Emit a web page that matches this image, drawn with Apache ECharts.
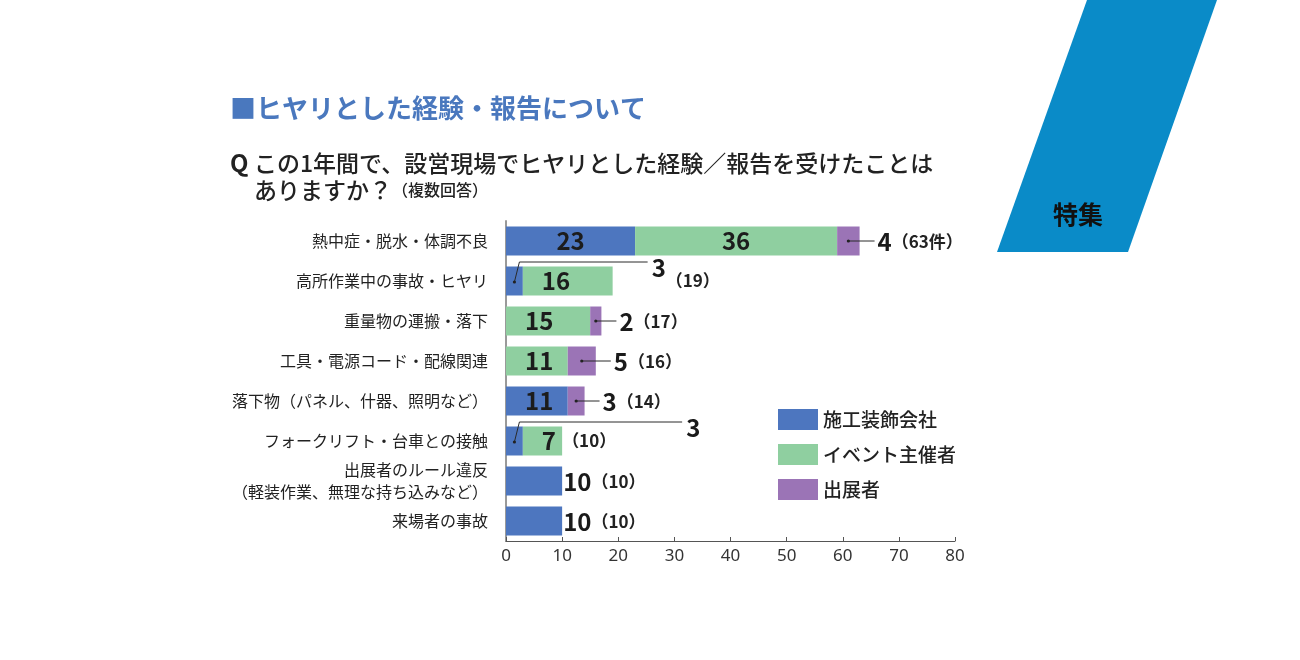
<!DOCTYPE html>
<html>
<head>
<meta charset="utf-8">
<title>ヒヤリとした経験・報告について</title>
<script src="https://cdn.jsdelivr.net/npm/echarts@6/dist/echarts.min.js"></script>
<style>
  html, body { margin: 0; padding: 0; background: #fff; }
  #chart { width: 1300px; height: 660px; }
</style>
</head>
<body>
<div id="chart"></div>
<script>
// データ（上から順）
const categories = [
  '熱中症・脱水・体調不良',
  '高所作業中の事故・ヒヤリ',
  '重量物の運搬・落下',
  '工具・電源コード・配線関連',
  '落下物（パネル、什器、照明など）',
  'フォークリフト・台車との接触',
  '出展者のルール違反\n（軽装作業、無理な持ち込みなど）',
  '来場者の事故'
];
const seriesNames = ['施工装飾会社', 'イベント主催者', '出展者'];
const contractor = [23, 3, 0, 0, 11, 3, 10, 10];
const organizer = [36, 16, 15, 11, 0, 7, 0, 0];
const exhibitor = [4, 0, 2, 5, 3, 0, 0, 0];
const totals = [63, 19, 17, 16, 14, 10, 10, 10];
const axisMin = 0;
const axisMax = 80;
const axisStep = 10;

const FONT = '"Noto Sans CJK JP", "Noto Sans", sans-serif';
const colors = ['#4d76bf', '#8fcfa0', '#9b74b6'];
// 引き出し線の横の長さ（バー端からのpx）
const ELBOW_REACH = { 1: 35, 5: 120 };

const chart = echarts.init(document.getElementById('chart'));

// バー内の数字
const segLabel = (v) => ({
  show: true,
  position: v >= 20 ? 'inside' : 'insideLeft',
  distance: 19,
  fontSize: 24,
  fontWeight: 'bold',
  fontFamily: FONT,
  color: '#1c1c1c'
});

const toItems = (arr, showFn) => arr.map((v, i) => ({
  value: v,
  label: showFn(v, i) ? segLabel(v) : { show: false }
}));

const RICH = {
  n: { fontSize: 24, fontWeight: 'bold', fill: '#1a1a1a', fontFamily: FONT },
  t: { fontSize: 17, fontWeight: 'bold', fill: '#222', fontFamily: FONT }
};

// 外側の数字・引き出し線・合計
const renderCallout = (params, api) => {
  const total = api.value(0);
  const i = api.value(1);
  const end = api.coord([total, i]);
  const yc = end[1];
  const totalText = i === 0 ? '（' + total + '件）' : '（' + total + '）';
  const lineStyle = { stroke: '#2a2a2a', lineWidth: 1, fill: null };
  const dot = (x, y) => ({ type: 'circle', shape: { cx: x, cy: y, r: 1.6 }, style: { fill: '#222' } });
  const kids = [];

  if (exhibitor[i] > 0) {
    const sx = api.coord([total - exhibitor[i] / 2, i])[0];
    const lx = end[0] + 15;
    kids.push({ type: 'line', shape: { x1: sx, y1: yc, x2: lx, y2: yc }, style: lineStyle });
    kids.push(dot(sx, yc));
    kids.push({
      type: 'text', x: lx + 3, y: yc + 1,
      style: { text: '{n|' + exhibitor[i] + '}{t|' + totalText + '}', rich: RICH, align: 'left', verticalAlign: 'middle' }
    });
  } else if (contractor[i] > 0 && contractor[i] < 5) {
    const sx = api.coord([contractor[i] / 2, i])[0];
    const ly = yc - 19;
    const reach = ELBOW_REACH[i] || 40;
    const lx = end[0] + reach;
    kids.push({ type: 'polyline', shape: { points: [[sx, yc + 1], [sx + 5, ly], [lx, ly]] }, style: lineStyle });
    kids.push(dot(sx, yc + 1));
    kids.push({
      type: 'text', x: lx + 4, y: ly + 6,
      style: { text: '{n|' + contractor[i] + '}', rich: RICH, align: 'left', verticalAlign: 'middle' }
    });
    const tx = reach > 60 ? end[0] : lx + 18;
    kids.push({
      type: 'text', x: tx, y: yc,
      style: { text: '{t|' + totalText + '}', rich: RICH, align: 'left', verticalAlign: 'middle' }
    });
  } else {
    kids.push({
      type: 'text', x: end[0] + 1, y: yc + 1,
      style: { text: '{n|' + contractor[i] + '}{t|' + totalText + '}', rich: RICH, align: 'left', verticalAlign: 'middle' }
    });
  }
  return { type: 'group', children: kids };
};

const option = {
  animation: false,
  backgroundColor: '#fff',
  color: colors,
  grid: { left: 506, right: 345, top: 221, bottom: 119 },
  legend: {
    data: seriesNames,
    orient: 'vertical',
    left: 778,
    top: 409,
    padding: 0,
    icon: 'rect',
    itemWidth: 40,
    itemHeight: 21,
    itemGap: 14,
    textStyle: { fontSize: 19, color: '#222', fontFamily: FONT, fontWeight: 500 }
  },
  xAxis: {
    type: 'value',
    min: axisMin,
    max: axisMax,
    interval: axisStep,
    axisLine: { show: true, lineStyle: { color: '#555', width: 1 } },
    axisTick: { show: true, inside: true, length: 4, lineStyle: { color: '#555' } },
    splitLine: { show: false },
    axisLabel: { fontSize: 17, color: '#333', fontFamily: '"Noto Sans", sans-serif', margin: 7 }
  },
  yAxis: {
    type: 'category',
    inverse: true,
    data: categories,
    axisLine: { show: true, lineStyle: { color: '#9a9a9a', width: 2 } },
    axisTick: { show: false },
    axisLabel: { fontSize: 16, color: '#222', fontFamily: FONT, margin: 18, lineHeight: 22 }
  },
  series: [
    {
      name: seriesNames[0], type: 'bar', stack: 'all', barWidth: 29,
      data: toItems(contractor, (v, i) => v >= 5 && v < totals[i])
    },
    {
      name: seriesNames[1], type: 'bar', stack: 'all', barWidth: 29,
      data: toItems(organizer, (v) => v >= 5)
    },
    {
      name: seriesNames[2], type: 'bar', stack: 'all', barWidth: 29,
      data: toItems(exhibitor, () => false)
    },
    {
      name: 'callout', type: 'custom', z: 5, silent: true,
      coordinateSystem: 'cartesian2d',
      encode: { x: 0, y: 1 },
      data: totals.map((t, i) => [t, i]),
      renderItem: renderCallout
    }
  ],
  graphic: [
    {
      type: 'polygon', silent: true,
      shape: { points: [[1087, 0], [1217, 0], [1128, 252], [997, 252]] },
      style: { fill: '#0a8bc8' }
    },
    {
      type: 'text', x: 1078, y: 214,
      style: { text: '特集', fontSize: 25, fontWeight: 'bold', fontFamily: FONT, fill: '#111', align: 'center', verticalAlign: 'middle' }
    },
    {
      type: 'text', x: 230, y: 108,
      style: { text: '■ヒヤリとした経験・報告について', fontSize: 26, fontWeight: 'bold', fontFamily: FONT, fill: '#4a78be', verticalAlign: 'middle' }
    },
    {
      type: 'text', x: 230, y: 163,
      style: { text: 'Q', fontSize: 24, fontWeight: 'bold', fontFamily: FONT, fill: '#222', verticalAlign: 'middle' }
    },
    {
      type: 'text', x: 254, y: 163,
      style: { text: 'この1年間で、設営現場でヒヤリとした経験／報告を受けたことは', fontSize: 23, fontWeight: 500, fontFamily: FONT, fill: '#222', verticalAlign: 'middle' }
    },
    {
      type: 'text', x: 254, y: 190,
      style: {
        text: '{a|ありますか？}{b|（複数回答）}',
        verticalAlign: 'middle',
        rich: {
          a: { fontSize: 23, fontWeight: 500, fontFamily: FONT, fill: '#222' },
          b: { fontSize: 16, fontWeight: 500, fontFamily: FONT, fill: '#222' }
        }
      }
    }
  ]
};

chart.setOption(option);

window.addEventListener('resize', () => {
  chart.resize();
});
</script>
</body>
</html>
